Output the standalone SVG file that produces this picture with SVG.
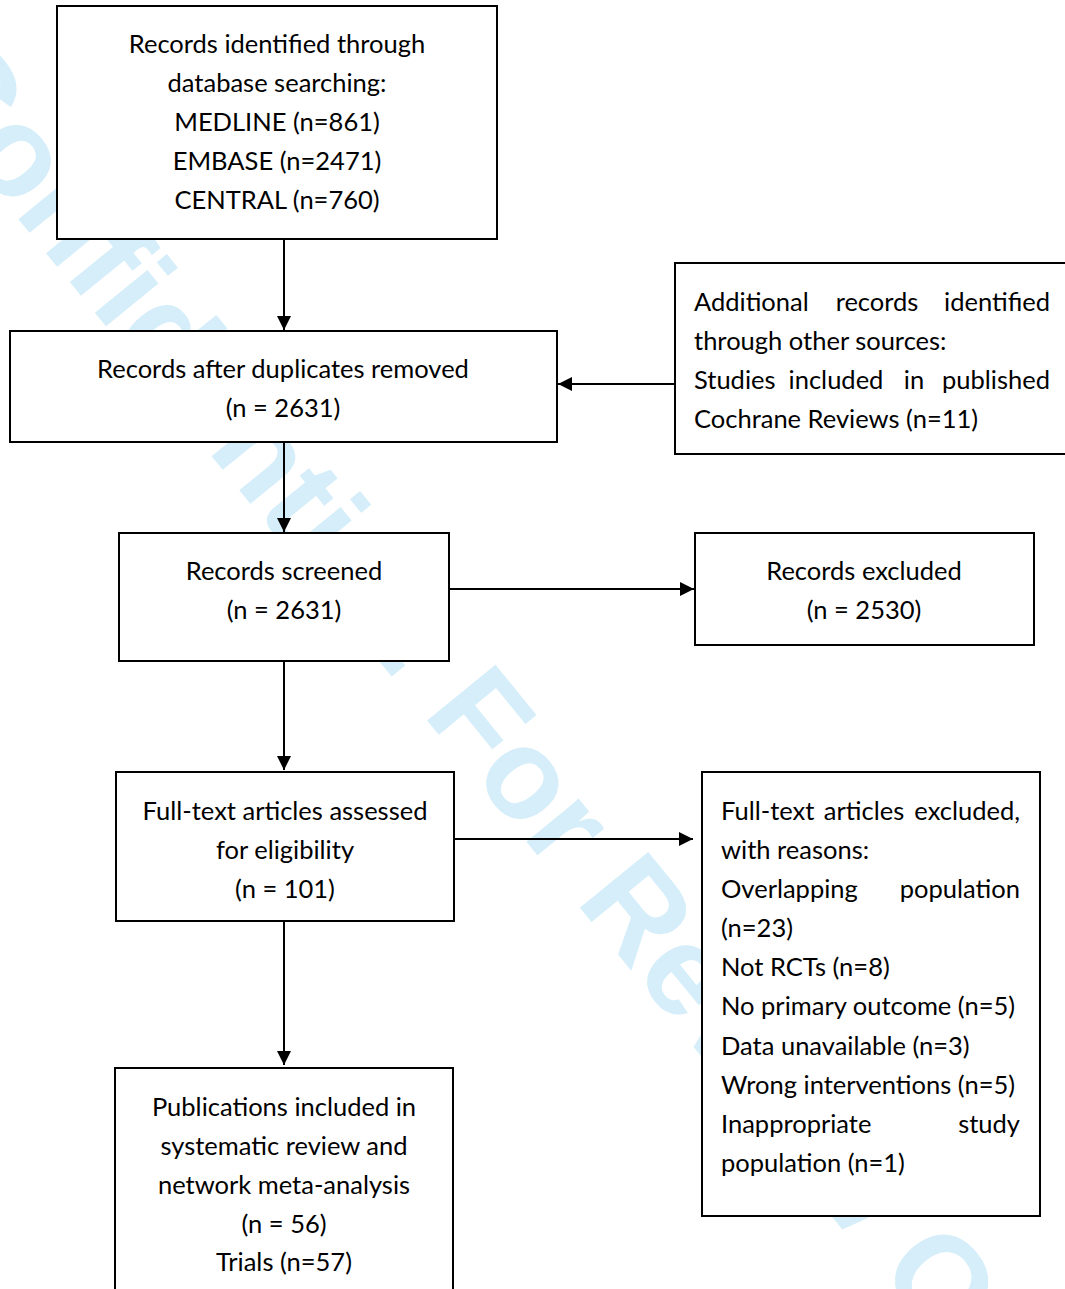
<svg xmlns="http://www.w3.org/2000/svg" width="1065" height="1289" viewBox="0 0 1065 1289">
  <defs>
    <marker id="arrow" markerUnits="userSpaceOnUse" markerWidth="14" markerHeight="14" viewBox="0 0 14 14" refX="14" refY="7" orient="auto">
      <path d="M0,0 L14,7 L0,14 Z" fill="#000"/>
    </marker>
  </defs>
  <style>
    .box { fill: #fff; stroke: #000; stroke-width: 2; }
    .lbl { font-family: Lato, "Liberation Sans", sans-serif; font-size: 25.5px; fill: #000; }
    .c { text-anchor: middle; }
    .e { text-anchor: end; }
    .edge { stroke: #000; stroke-width: 2; fill: none; marker-end: url(#arrow); }
    .mark { font-family: "Liberation Sans", Arial, sans-serif; font-weight: bold; font-size: 128px; fill: #d5eefa; }
  </style>

  <rect width="1065" height="1289" fill="#fff"/>

  <!-- background watermark -->
  <text class="mark" transform="translate(-95,80) rotate(50.8)">Confidential: For Review Only</text>

  <!-- nodes -->
  <g id="identified">
    <rect class="box" x="57" y="6" width="440" height="233"/>
    <text class="lbl c" x="277" y="53">Records identified through</text>
    <text class="lbl c" x="277" y="92">database searching:</text>
    <text class="lbl c" x="277" y="131">MEDLINE (n=861)</text>
    <text class="lbl c" x="277" y="170">EMBASE (n=2471)</text>
    <text class="lbl c" x="277" y="209">CENTRAL (n=760)</text>
  </g>

  <g id="additional">
    <rect class="box" x="675" y="263" width="400" height="191"/>
    <text class="lbl" x="694" y="311">Additional</text>
    <text class="lbl c" x="877" y="311">records</text>
    <text class="lbl e" x="1050" y="311">identified</text>
    <text class="lbl" x="694" y="350">through other sources:</text>
    <text class="lbl" x="694" y="389">Studies</text>
    <text class="lbl c" x="836" y="389">included</text>
    <text class="lbl c" x="914" y="389">in</text>
    <text class="lbl e" x="1050" y="389">published</text>
    <text class="lbl" x="694" y="428">Cochrane Reviews (n=11)</text>
  </g>

  <g id="deduplicated">
    <rect class="box" x="10" y="331" width="547" height="111"/>
    <text class="lbl c" x="283" y="378">Records after duplicates removed</text>
    <text class="lbl c" x="283" y="417">(n = 2631)</text>
  </g>

  <g id="screened">
    <rect class="box" x="119" y="533" width="330" height="128"/>
    <text class="lbl c" x="284" y="580">Records screened</text>
    <text class="lbl c" x="284" y="619">(n = 2631)</text>
  </g>

  <g id="excluded">
    <rect class="box" x="695" y="533" width="339" height="112"/>
    <text class="lbl c" x="864" y="580">Records excluded</text>
    <text class="lbl c" x="864" y="619">(n = 2530)</text>
  </g>

  <g id="fulltext">
    <rect class="box" x="116" y="772" width="338" height="149"/>
    <text class="lbl c" x="285" y="820">Full-text articles assessed</text>
    <text class="lbl c" x="285" y="859">for eligibility</text>
    <text class="lbl c" x="285" y="898">(n = 101)</text>
  </g>

  <g id="fulltext-excluded">
    <rect class="box" x="702" y="772" width="338" height="444"/>
    <text class="lbl" x="721" y="820">Full-text</text>
    <text class="lbl c" x="864" y="820">articles</text>
    <text class="lbl e" x="1020" y="820">excluded,</text>
    <text class="lbl" x="721" y="859">with reasons:</text>
    <text class="lbl" x="721" y="898">Overlapping</text>
    <text class="lbl e" x="1020" y="898">population</text>
    <text class="lbl" x="721" y="937">(n=23)</text>
    <text class="lbl" x="721" y="976">Not RCTs (n=8)</text>
    <text class="lbl" x="721" y="1015">No primary outcome (n=5)</text>
    <text class="lbl" x="721" y="1055">Data unavailable (n=3)</text>
    <text class="lbl" x="721" y="1094">Wrong interventions (n=5)</text>
    <text class="lbl" x="721" y="1133">Inappropriate</text>
    <text class="lbl e" x="1020" y="1133">study</text>
    <text class="lbl" x="721" y="1172">population (n=1)</text>
  </g>

  <g id="included">
    <rect class="box" x="115" y="1068" width="338" height="260"/>
    <text class="lbl c" x="284" y="1116">Publications included in</text>
    <text class="lbl c" x="284" y="1155">systematic review and</text>
    <text class="lbl c" x="284" y="1194">network meta-analysis</text>
    <text class="lbl c" x="284" y="1233">(n = 56)</text>
    <text class="lbl c" x="284" y="1271">Trials (n=57)</text>
  </g>

  <!-- connectors -->
  <g id="connectors">
    <line class="edge" x1="284" y1="239" x2="284" y2="330"/>
    <line class="edge" x1="675" y1="384" x2="558" y2="384"/>
    <line class="edge" x1="284" y1="442" x2="284" y2="532"/>
    <line class="edge" x1="449" y1="589" x2="694" y2="589"/>
    <line class="edge" x1="284" y1="661" x2="284" y2="770"/>
    <line class="edge" x1="454" y1="839" x2="693" y2="839"/>
    <line class="edge" x1="284" y1="921" x2="284" y2="1065"/>
  </g>
</svg>
